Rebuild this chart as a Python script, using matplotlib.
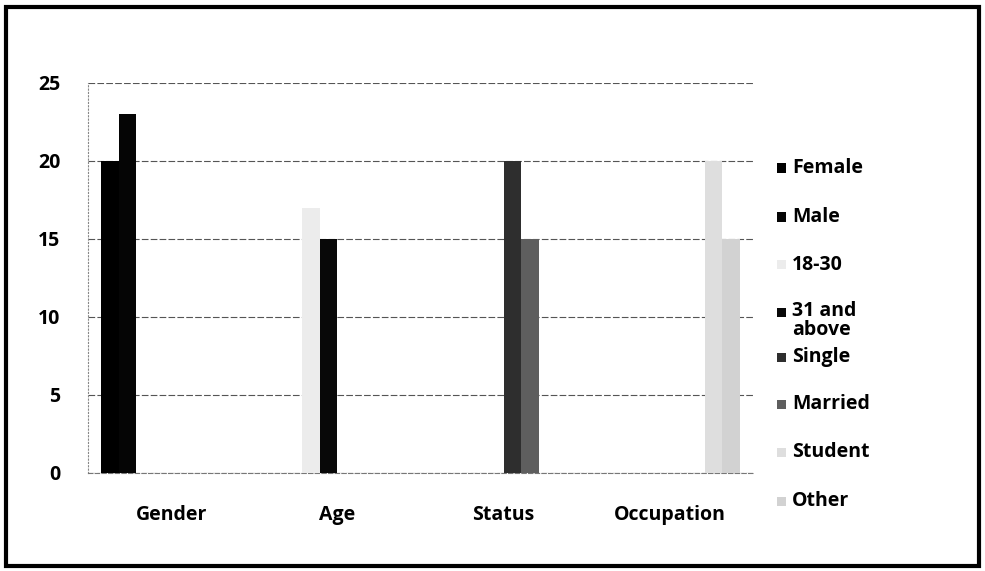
import matplotlib
matplotlib.use("Agg")
import matplotlib.pyplot as plt
from matplotlib.patches import Rectangle
import numpy as np

categories = ['Gender', 'Age', 'Status', 'Occupation']
series = ['Female', 'Male', '18-30', '31 and\nabove', 'Single', 'Married', 'Student', 'Other']
series_cat = [0, 0, 1, 1, 2, 2, 3, 3]
values = [20, 23, 17, 15, 20, 15, 20, 15]
colors = ['#000000', '#050505', '#ececec', '#080808', '#2e2e2e', '#5e5e5e', '#dedede', '#d2d2d2']

plt.rcParams['font.family'] = ['Open Sans', 'DejaVu Sans']

fig = plt.figure(figsize=(9.85, 5.71), dpi=100)
ax = fig.add_axes([88 / 985, 98 / 571, 665 / 985, 390 / 571])

w = 1 / 9.5  # Excel gap width 150%
x = np.arange(len(categories))
for k, (name, c, v, col) in enumerate(zip(series, series_cat, values, colors)):
    ax.bar(x[c] + (k - 3.5) * w, v, width=w, color=col, edgecolor='none', zorder=3)

ax.set_xlim(-0.5, len(categories) - 0.5)
ax.set_ylim(0, 25)
ax.set_yticks([0, 5, 10, 15, 20, 25])
ax.set_xticks(x)
ax.set_xticklabels(categories)
ax.tick_params(axis='both', length=0, labelsize=14)
ax.tick_params(axis='y', pad=20)
ax.tick_params(axis='x', pad=23)
for lab in ax.get_xticklabels() + ax.get_yticklabels():
    lab.set_fontweight('bold')

ax.grid(axis='y', color='#555555', linestyle=(0, (6, 2)), linewidth=0.8, zorder=0)
for s in ['top', 'right']:
    ax.spines[s].set_visible(False)
ax.spines['left'].set_color('#888888')
ax.spines['left'].set_linestyle((0, (1, 2)))
ax.spines['bottom'].set_color('#777777')
ax.spines['bottom'].set_linestyle((0, (4, 2)))

# legend, drawn by hand to keep Excel's spacing
legend_y = [168, 217, 265, 312, 357, 404, 452, 501]
for name, col, yp in zip(series, colors, legend_y):
    fy = 1 - yp / 571
    fig.patches.append(Rectangle((777 / 985, fy - 4.5 / 571), 9 / 985, 9 / 571,
                                 transform=fig.transFigure, facecolor=col,
                                 edgecolor='none'))
    if '\n' in name:
        fig.text(792 / 985, fy + 11 / 571, name, fontsize=14, fontweight='bold',
                 va='top', ha='left', linespacing=0.95)
    else:
        fig.text(792 / 985, fy, name, fontsize=14, fontweight='bold',
                 va='center', ha='left')

# outer frame
fig.patches.append(Rectangle((6 / 985, 5 / 571), 973 / 985, 559 / 571,
                             transform=fig.transFigure, fill=False,
                             edgecolor='black', linewidth=3))

fig.savefig('out.png', dpi=100)
